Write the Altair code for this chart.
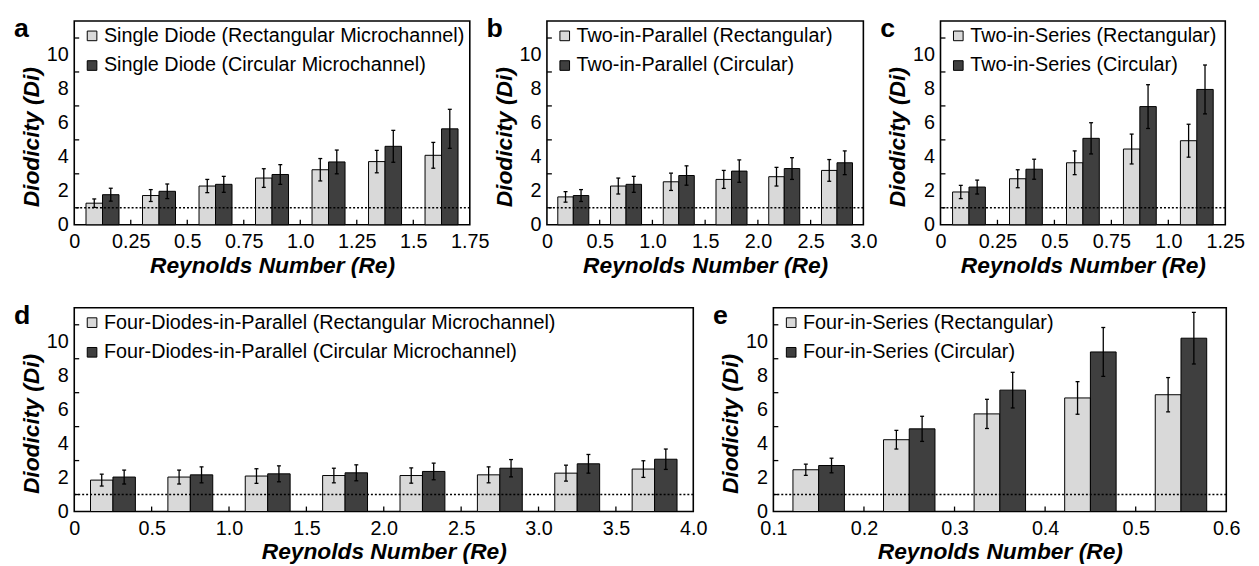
import json
import altair as alt
import pandas as pd

FONT = "Liberation Sans"
LIGHT = "#d9d9d9"
DARK = "#3f3f3f"

# ---------------- data ----------------
a_re = [0.125, 0.375, 0.625, 0.875, 1.125, 1.375, 1.625]
a_rect = [1.27, 1.72, 2.28, 2.75, 3.24, 3.72, 4.09]
a_rect_err = [0.25, 0.35, 0.39, 0.55, 0.66, 0.66, 0.76]
a_circ = [1.77, 1.97, 2.38, 2.96, 3.70, 4.62, 5.65]
a_circ_err = [0.38, 0.43, 0.47, 0.58, 0.70, 0.94, 1.15]
a_ticks = [0, 0.25, 0.5, 0.75, 1.0, 1.25, 1.5, 1.75]
a_labels = ["0", "0.25", "0.5", "0.75", "1.0", "1.25", "1.5", "1.75"]
a_legend = ["Single Diode (Rectangular Microchannel)", "Single Diode (Circular Microchannel)"]

b_re = [0.25, 0.75, 1.25, 1.75, 2.25, 2.75]
b_rect = [1.64, 2.28, 2.53, 2.67, 2.83, 3.20]
b_rect_err = [0.31, 0.47, 0.51, 0.53, 0.55, 0.64]
b_circ = [1.72, 2.38, 2.90, 3.16, 3.31, 3.65]
b_circ_err = [0.35, 0.47, 0.57, 0.66, 0.64, 0.70]
b_ticks = [0, 0.5, 1.0, 1.5, 2.0, 2.5, 3.0]
b_labels = ["0", "0.5", "1.0", "1.5", "2.0", "2.5", "3.0"]
b_legend = ["Two-in-Parallel (Rectangular)", "Two-in-Parallel (Circular)"]

c_re = [0.125, 0.375, 0.625, 0.875, 1.125]
c_rect = [1.93, 2.71, 3.65, 4.46, 4.95]
c_rect_err = [0.39, 0.53, 0.70, 0.88, 0.97]
c_circ = [2.22, 3.27, 5.09, 6.96, 7.97]
c_circ_err = [0.41, 0.59, 0.92, 1.29, 1.44]
c_ticks = [0, 0.25, 0.5, 0.75, 1.0, 1.25]
c_labels = ["0", "0.25", "0.5", "0.75", "1.0", "1.25"]
c_legend = ["Two-in-Series (Rectangular)", "Two-in-Series (Circular)"]

d_re = [0.25, 0.75, 1.25, 1.75, 2.25, 2.75, 3.25, 3.75]
d_rect = [1.85, 2.03, 2.09, 2.12, 2.12, 2.16, 2.26, 2.50]
d_rect_err = [0.35, 0.41, 0.43, 0.43, 0.45, 0.47, 0.47, 0.49]
d_circ = [2.03, 2.16, 2.22, 2.28, 2.36, 2.55, 2.81, 3.08]
d_circ_err = [0.41, 0.47, 0.47, 0.47, 0.49, 0.51, 0.55, 0.60]
d_ticks = [0, 0.5, 1.0, 1.5, 2.0, 2.5, 3.0, 3.5, 4.0]
d_labels = ["0", "0.5", "1.0", "1.5", "2.0", "2.5", "3.0", "3.5", "4.0"]
d_legend = ["Four-Diodes-in-Parallel (Rectangular Microchannel)",
            "Four-Diodes-in-Parallel (Circular Microchannel)"]

e_re = [0.15, 0.25, 0.35, 0.45, 0.55]
e_rect = [2.46, 4.23, 5.75, 6.69, 6.88]
e_rect_err = [0.33, 0.55, 0.86, 0.96, 1.01]
e_circ = [2.71, 4.87, 7.15, 9.40, 10.21]
e_circ_err = [0.43, 0.74, 1.05, 1.44, 1.52]
e_ticks = [0.1, 0.2, 0.3, 0.4, 0.5, 0.6]
e_labels = ["0.1", "0.2", "0.3", "0.4", "0.5", "0.6"]
e_legend = ["Four-in-Series (Rectangular)", "Four-in-Series (Circular)"]

y_labels = [0, 2, 4, 6, 8, 10]
y_minor = [1, 3, 5, 7, 9, 11]
ref_line = [1]

H = 206


def panel(letter, re, rect, rect_err, circ, circ_err, ticks, labels, legend, width, bar_w):
    rows = []
    for xc, m, e in zip(re, rect, rect_err):
        rows.append(dict(series=legend[0], x0=xc - bar_w, x1=xc, xm=xc - bar_w / 2,
                         v=m, lo=m - e, hi=m + e))
    for xc, m, e in zip(re, circ, circ_err):
        rows.append(dict(series=legend[1], x0=xc, x1=xc + bar_w, xm=xc + bar_w / 2,
                         v=m, lo=m - e, hi=m + e))
    df = pd.DataFrame(rows)

    xscale = alt.Scale(domain=[ticks[0], ticks[-1]], nice=False, zero=False)
    yscale = alt.Scale(domain=[0, 12], nice=False, zero=True)
    label_expr = f"{json.dumps(labels)}[indexof({json.dumps(ticks)}, datum.value)]"

    xaxis = alt.Axis(values=ticks, labelExpr=label_expr, title="Reynolds Number (Re)",
                     ticks=False, domain=False, grid=False, labelPadding=7,
                     labelFontSize=20, labelFlush=False, labelOverlap=False,
                     titleFontSize=23, titleFontStyle="italic", titleFontWeight="bold",
                     titleY=48, titleBaseline="alphabetic")
    yaxis = alt.Axis(values=y_labels, title="Diodicity (Di)", ticks=False, domain=False,
                     grid=False, labelPadding=6, labelFontSize=20, labelFlush=False,
                     labelOverlap=False,
                     titleFontSize=23, titleFontStyle="italic", titleFontWeight="bold",
                     titleX=-36, titleY=117, titleBaseline="alphabetic", titleAngle=270)

    def X(f):
        return alt.X(f, scale=xscale, axis=xaxis)

    def Y(f):
        return alt.Y(f, scale=yscale, axis=yaxis)

    bars = alt.Chart(df).mark_bar(stroke="black", strokeWidth=1).encode(
        x=X("x0:Q"),
        x2="x1:Q",
        y=Y("v:Q"),
        y2=alt.datum(0),
        color=alt.Color("series:N",
                        scale=alt.Scale(domain=legend, range=[LIGHT, DARK]),
                        legend=alt.Legend(title=None, orient="none", legendX=8, legendY=5,
                                          symbolType="square", symbolSize=95,
                                          symbolStrokeColor="black", symbolStrokeWidth=1,
                                          symbolOpacity=1,
                                          labelFont=FONT, labelFontSize=20, labelColor="black",
                                          labelOffset=2, rowPadding=10, labelLimit=0,
                                          padding=0)),
    )
    dotted = alt.Chart(pd.DataFrame({"ref": ref_line})).mark_rule(
        color="black", strokeWidth=1.6, strokeDash=[2, 2]
    ).encode(y=Y("ref:Q"))

    err = alt.Chart(df).mark_rule(color="black", strokeWidth=1.3).encode(
        x=X("xm:Q"),
        y=Y("lo:Q"),
        y2="hi:Q",
    )
    caps = alt.Chart(df).transform_fold(["lo", "hi"], as_=["k", "ev"]).mark_tick(
        orient="horizontal", size=4, thickness=1.3, color="black", opacity=1
    ).encode(
        x=X("xm:Q"),
        y=Y("ev:Q"),
    )
    ytick = alt.Chart(pd.DataFrame({"t": y_minor})).mark_rule(
        color="black", strokeWidth=1.3
    ).encode(y=Y("t:Q"), x=alt.value(0), x2=alt.value(5))
    xtick = alt.Chart(pd.DataFrame({"t": ticks[1:-1]})).mark_rule(
        color="black", strokeWidth=1.3
    ).encode(x=X("t:Q"), y=alt.value(H), y2=alt.value(H - 5))
    lab = alt.Chart(pd.DataFrame({"l": [letter]})).mark_text(
        font=FONT, fontSize=27, fontWeight="bold", align="left", baseline="alphabetic",
        color="black"
    ).encode(text="l:N", x=alt.value(-61), y=alt.value(16))

    return alt.layer(bars, dotted, err, caps, ytick, xtick, lab).properties(
        width=width, height=H
    )


pa = panel("a", a_re, a_rect, a_rect_err, a_circ, a_circ_err, a_ticks, a_labels, a_legend, 400, 0.073)
pb = panel("b", b_re, b_rect, b_rect_err, b_circ, b_circ_err, b_ticks, b_labels, b_legend, 320, 0.147)
pc = panel("c", c_re, c_rect, c_rect_err, c_circ, c_circ_err, c_ticks, c_labels, c_legend, 288, 0.072)
pd_ = panel("d", d_re, d_rect, d_rect_err, d_circ, d_circ_err, d_ticks, d_labels, d_legend, 626, 0.145)
pe = panel("e", e_re, e_rect, e_rect_err, e_circ, e_circ_err, e_ticks, e_labels, e_legend, 458, 0.0284)


def indep(c):
    return c.resolve_scale(color="independent", x="independent", y="independent").resolve_legend(
        color="independent")


row1 = indep(alt.hconcat(pa, pb, pc, spacing=78, bounds="flush"))
row2 = indep(alt.hconcat(pd_, pe, spacing=81, bounds="flush"))

chart = indep(alt.vconcat(row1, row2, spacing=23)).properties(
    padding={"left": 5, "top": 3, "right": 5, "bottom": 5},
    background="white",
).configure_view(
    stroke="black", strokeWidth=1.6
).configure_axis(
    labelFont=FONT, titleFont=FONT, labelColor="black", titleColor="black"
)

chart.save("out.html", embed_options={"renderer": "svg", "actions": False})
